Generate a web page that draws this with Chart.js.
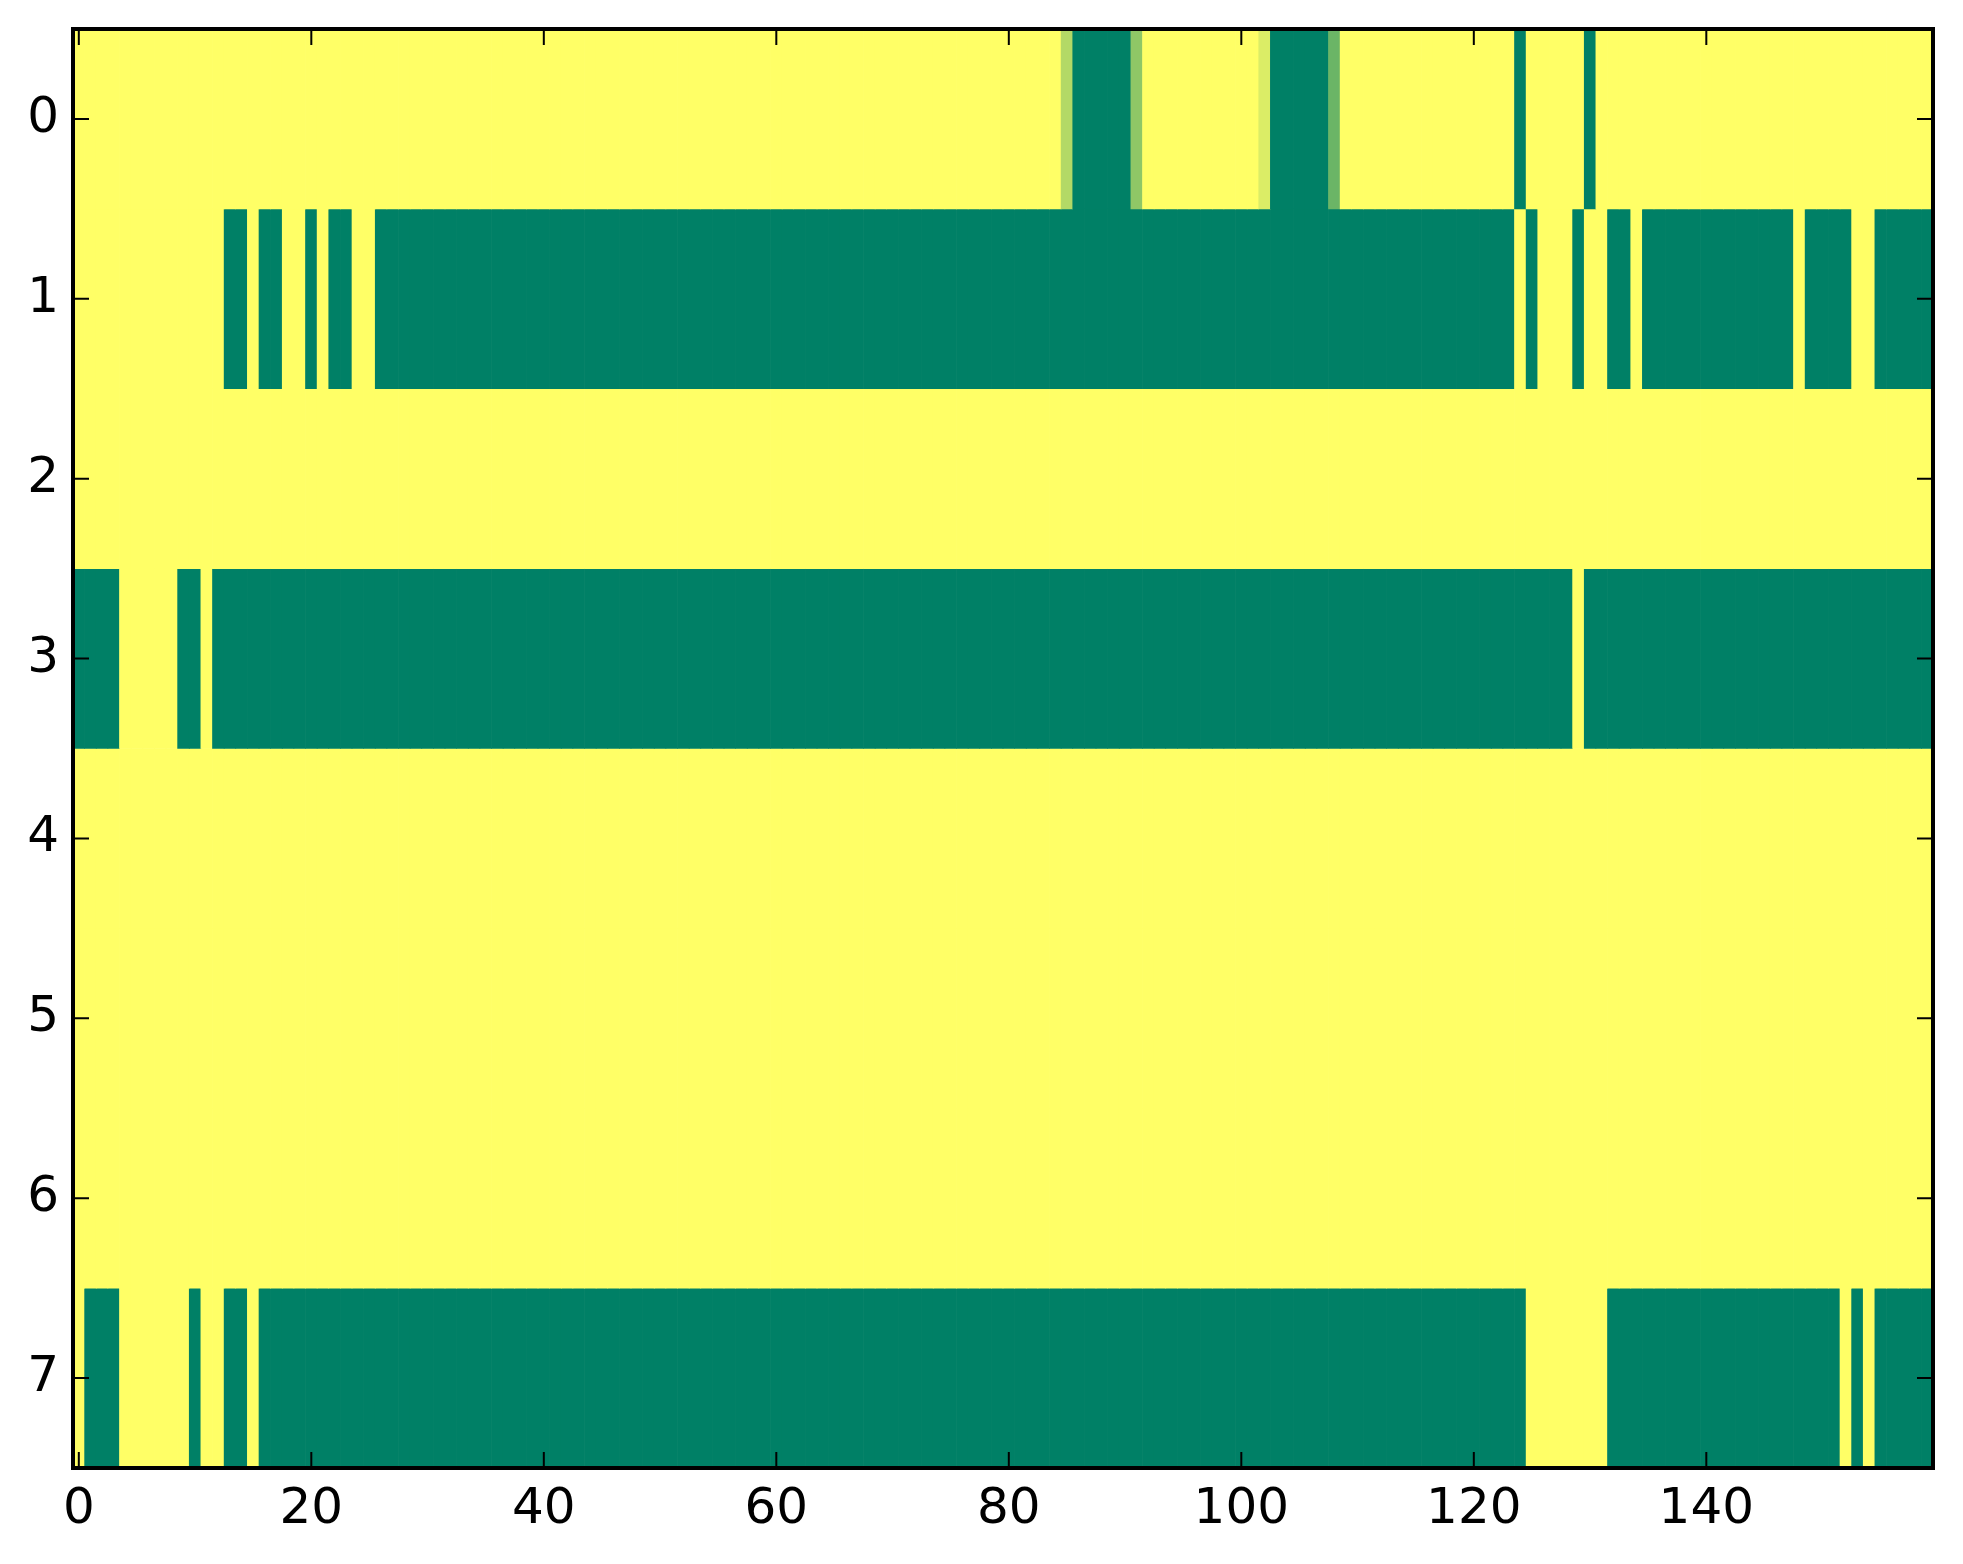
<!DOCTYPE html>
<html>
<head>
<meta charset="utf-8">
<script src="https://cdn.jsdelivr.net/npm/chart.js@4/dist/chart.umd.min.js"></script>
<style>
  html, body { margin: 0; padding: 0; background: #ffffff; }
  #wrap { width: 1963px; height: 1564px; }
</style>
</head>
<body>
<div id="wrap"><canvas id="grafico"></canvas></div>
<script>
// filas del mapa (0 = verde, 1 = amarillo, colormap "summer")
const row0 = [
  1,1,1,1,1,1,1,1,1,1,1,1,1,1,1,1,1,1,1,1,
  1,1,1,1,1,1,1,1,1,1,1,1,1,1,1,1,1,1,1,1,
  1,1,1,1,1,1,1,1,1,1,1,1,1,1,1,1,1,1,1,1,
  1,1,1,1,1,1,1,1,1,1,1,1,1,1,1,1,1,1,1,1,
  1,1,1,1,1,0.7,0,0,0,0,0,0.56,1,1,1,1,1,1,1,1,
  1,1,0.86,0,0,0,0,0,0.42,1,1,1,1,1,1,1,1,1,1,1,
  1,1,1,1,0,1,1,1,1,1,0,1,1,1,1,1,1,1,1,1,
  1,1,1,1,1,1,1,1,1,1,1,1,1,1,1,1,1,1,1,1
];
const row1 = [
  1,1,1,1,1,1,1,1,1,1,1,1,1,0,0,1,0,0,1,1,
  0,1,0,0,1,1,0,0,0,0,0,0,0,0,0,0,0,0,0,0,
  0,0,0,0,0,0,0,0,0,0,0,0,0,0,0,0,0,0,0,0,
  0,0,0,0,0,0,0,0,0,0,0,0,0,0,0,0,0,0,0,0,
  0,0,0,0,0,0,0,0,0,0,0,0,0,0,0,0,0,0,0,0,
  0,0,0,0,0,0,0,0,0,0,0,0,0,0,0,0,0,0,0,0,
  0,0,0,0,1,0,1,1,1,0,1,1,0,0,1,0,0,0,0,0,
  0,0,0,0,0,0,0,0,1,0,0,0,0,1,1,0,0,0,0,0
];
const row2 = [
  1,1,1,1,1,1,1,1,1,1,1,1,1,1,1,1,1,1,1,1,
  1,1,1,1,1,1,1,1,1,1,1,1,1,1,1,1,1,1,1,1,
  1,1,1,1,1,1,1,1,1,1,1,1,1,1,1,1,1,1,1,1,
  1,1,1,1,1,1,1,1,1,1,1,1,1,1,1,1,1,1,1,1,
  1,1,1,1,1,1,1,1,1,1,1,1,1,1,1,1,1,1,1,1,
  1,1,1,1,1,1,1,1,1,1,1,1,1,1,1,1,1,1,1,1,
  1,1,1,1,1,1,1,1,1,1,1,1,1,1,1,1,1,1,1,1,
  1,1,1,1,1,1,1,1,1,1,1,1,1,1,1,1,1,1,1,1
];
const row3 = [
  0,0,0,0,1,1,1,1,1,0,0,1,0,0,0,0,0,0,0,0,
  0,0,0,0,0,0,0,0,0,0,0,0,0,0,0,0,0,0,0,0,
  0,0,0,0,0,0,0,0,0,0,0,0,0,0,0,0,0,0,0,0,
  0,0,0,0,0,0,0,0,0,0,0,0,0,0,0,0,0,0,0,0,
  0,0,0,0,0,0,0,0,0,0,0,0,0,0,0,0,0,0,0,0,
  0,0,0,0,0,0,0,0,0,0,0,0,0,0,0,0,0,0,0,0,
  0,0,0,0,0,0,0,0,0,1,0,0,0,0,0,0,0,0,0,0,
  0,0,0,0,0,0,0,0,0,0,0,0,0,0,0,0,0,0,0,0
];
const row4 = row2.slice();
const row5 = row2.slice();
const row6 = row2.slice();
const row7 = [
  1,0,0,0,1,1,1,1,1,1,0,1,1,0,0,1,0,0,0,0,
  0,0,0,0,0,0,0,0,0,0,0,0,0,0,0,0,0,0,0,0,
  0,0,0,0,0,0,0,0,0,0,0,0,0,0,0,0,0,0,0,0,
  0,0,0,0,0,0,0,0,0,0,0,0,0,0,0,0,0,0,0,0,
  0,0,0,0,0,0,0,0,0,0,0,0,0,0,0,0,0,0,0,0,
  0,0,0,0,0,0,0,0,0,0,0,0,0,0,0,0,0,0,0,0,
  0,0,0,0,0,1,1,1,1,1,1,1,0,0,0,0,0,0,0,0,
  0,0,0,0,0,0,0,0,0,0,0,0,1,0,1,0,0,0,0,0
];
const filas = [row0, row1, row2, row3, row4, row5, row6, row7];

// etiquetas de los ejes
const xTicks = [0, 20, 40, 60, 80, 100, 120, 140];
const yTicks = [0, 1, 2, 3, 4, 5, 6, 7];

// colormap "summer" de matplotlib
function colorSummer(v) {
  const r = Math.round(255 * v);
  const g = Math.round(255 * (0.5 + 0.5 * v));
  return `rgb(${r},${g},102)`;
}

// un dataset por fila, barras flotantes de alto 1
const datasets = filas.map((fila, r) => ({
  data: fila.map((v, c) => ({ x: c, y: [r - 0.5, r + 0.5] })),
  backgroundColor: fila.map(colorSummer),
  borderWidth: 0,
  grouped: false,
  barPercentage: 1,
  categoryPercentage: 1,
}));

// marco y ticks hacia dentro, como el estilo clásico
const marcoYTicks = {
  id: "marcoYTicks",
  afterDraw(chart) {
    const { ctx, chartArea: a, scales } = chart;
    const largo = 16;
    ctx.save();
    ctx.strokeStyle = "#000000";
    ctx.lineWidth = 2;
    ctx.beginPath();
    xTicks.forEach((v) => {
      const px = scales.x.getPixelForValue(v);
      ctx.moveTo(px, a.bottom);
      ctx.lineTo(px, a.bottom - largo);
      ctx.moveTo(px, a.top);
      ctx.lineTo(px, a.top + largo);
    });
    yTicks.forEach((v) => {
      const py = scales.y.getPixelForValue(v);
      ctx.moveTo(a.left, py);
      ctx.lineTo(a.left + largo, py);
      ctx.moveTo(a.right, py);
      ctx.lineTo(a.right - largo, py);
    });
    ctx.stroke();
    ctx.lineWidth = 4;
    ctx.strokeRect(a.left, a.top, a.right - a.left, a.bottom - a.top);
    ctx.restore();
  },
};

const fuente = { family: "'DejaVu Sans', sans-serif", size: 50 };

new Chart(document.getElementById("grafico"), {
  type: "bar",
  data: { datasets: datasets },
  options: {
    responsive: true,
    maintainAspectRatio: false,
    devicePixelRatio: 1,
    animation: false,
    layout: { padding: { top: 29, right: 30, left: 0, bottom: 0 } },
    plugins: { legend: { display: false }, tooltip: { enabled: false } },
    scales: {
      x: {
        type: "linear",
        min: -0.5,
        max: 159.5,
        offset: false,
        grid: { display: false },
        border: { display: false },
        afterBuildTicks: (axis) => {
          axis.ticks = xTicks.map((v) => ({ value: v }));
        },
        afterFit: (axis) => {
          axis.height = 96;
          axis.paddingLeft = 0;
          axis.paddingRight = 0;
        },
        ticks: {
          autoSkip: false,
          maxRotation: 0,
          padding: 4,
          color: "#000000",
          font: fuente,
          callback: (v) => String(v),
        },
      },
      y: {
        type: "linear",
        reverse: true,
        min: -0.5,
        max: 7.5,
        grid: { display: false },
        border: { display: false },
        afterBuildTicks: (axis) => {
          axis.ticks = yTicks.map((v) => ({ value: v }));
        },
        afterFit: (axis) => {
          axis.width = 73;
          axis.paddingTop = 0;
          axis.paddingBottom = 0;
        },
        ticks: {
          autoSkip: false,
          padding: 6,
          color: "#000000",
          font: fuente,
          callback: (v) => String(v),
        },
      },
    },
  },
  plugins: [marcoYTicks],
});
</script>
</body>
</html>
